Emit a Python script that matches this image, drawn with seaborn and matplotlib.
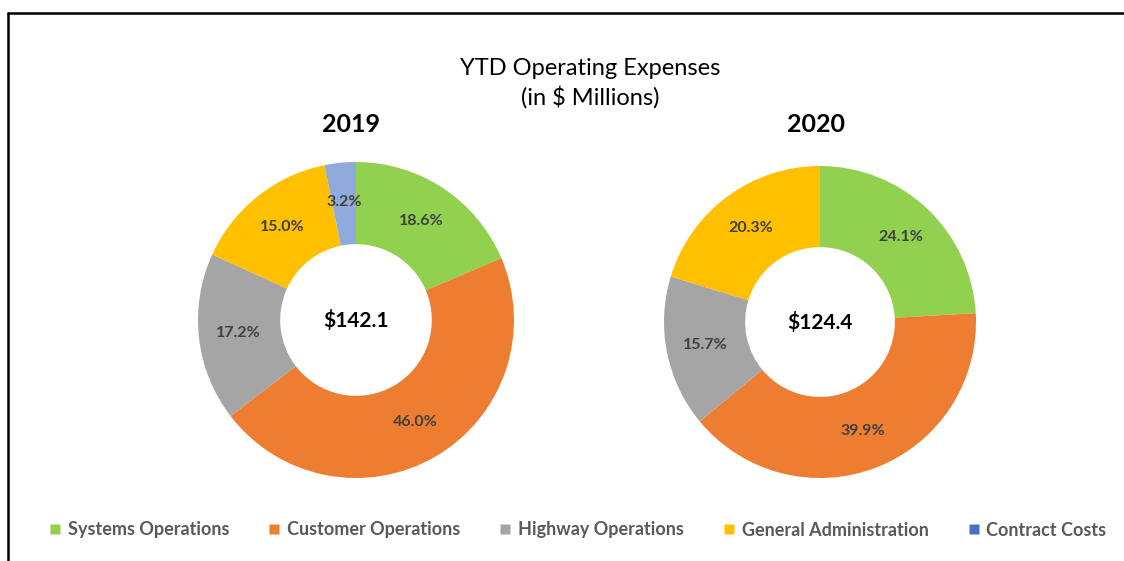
import matplotlib
matplotlib.use("Agg")
import matplotlib.pyplot as plt
from matplotlib.lines import Line2D
import seaborn as sns

# YTD operating expenses share by category (percent)
categories = ['Systems Operations', 'Customer Operations', 'Highway Operations',
              'General Administration', 'Contract Costs']
share_2019 = [18.6, 46.0, 17.2, 15.0, 3.2]
share_2020 = [24.1, 39.9, 15.7, 20.3, 0.0]
totals = ['$142.1', '$124.4']
years = ['2019', '2020']

colors = ['#92D050', '#ED7D31', '#A5A5A5', '#FFC000', '#8FAADC']
legend_colors = ['#92D050', '#ED7D31', '#A5A5A5', '#FFC000', '#4472C4']

sns.set_theme(style="white")
plt.rcParams['font.family'] = ['Lato', 'DejaVu Sans']

fig = plt.figure(figsize=(11.24, 5.61), dpi=100)
W, H = 1124, 561


def donut(cx, cy, r, values, total, year, year_x):
    ax = fig.add_axes([(cx - r) / W, (H - cy - r) / H, 2 * r / W, 2 * r / H])
    wedges, _, autotexts = ax.pie(
        values, colors=colors, startangle=90, counterclock=False,
        wedgeprops=dict(width=0.52, edgecolor='none'),
        autopct=lambda p: f'{p:.1f}%' if p > 0 else '', pctdistance=0.75)
    for t in autotexts:
        t.set_color('#404040')
        t.set_fontsize(11.5)
        t.set_fontweight('bold')
    ax.text(0, 0, total, ha='center', va='center', fontsize=15,
            fontweight='bold', color='black')
    ax.set_aspect('equal')
    ax.set_xlim(-1, 1)
    ax.set_ylim(-1, 1)
    fig.text(year_x / W, 1 - 125 / H, year, ha='center', va='center',
             fontsize=18, fontweight='bold', color='black')
    return ax


donut(356, 320, 158, share_2019, totals[0], years[0], 351)
donut(820, 322, 156, share_2020, totals[1], years[1], 816)

fig.text(590 / W, 1 - 83 / H, 'YTD Operating Expenses\n(in $ Millions)',
         ha='center', va='center', fontsize=17, color='black', linespacing=1.35)

handles = [Line2D([0], [0], marker='s', linestyle='none', markersize=7,
                  markerfacecolor=c, markeredgecolor='none') for c in legend_colors]
leg = fig.legend(handles, categories, loc='center', ncol=5,
                 bbox_to_anchor=(578 / W, 1 - 530 / H), frameon=False,
                 handlelength=0.6, handletextpad=0.4, columnspacing=2.2,
                 fontsize=13)
for t in leg.get_texts():
    t.set_color('#595959')
    t.set_fontweight('bold')

# frame lines (left and top)
fig.add_artist(Line2D([8 / W, 8 / W], [0, 1 - 13 / H], color='black', lw=1.8,
                      transform=fig.transFigure))
fig.add_artist(Line2D([8 / W, 1], [1 - 13 / H, 1 - 13 / H], color='black', lw=1.8,
                      transform=fig.transFigure))

fig.savefig('out.png', dpi=100)
